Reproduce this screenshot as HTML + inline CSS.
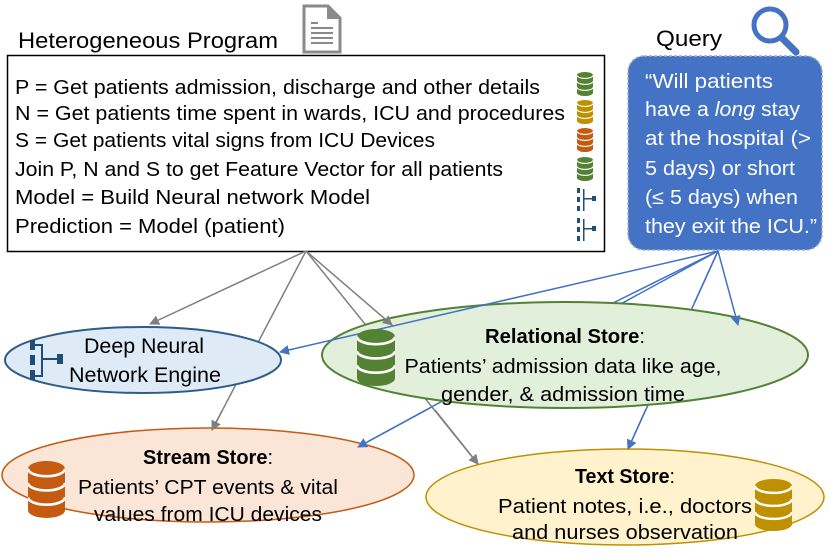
<!DOCTYPE html>
<html><head><meta charset="utf-8"><style>
html,body{margin:0;padding:0;background:#fff;width:830px;height:560px;overflow:hidden}
svg text{font-family:"Liberation Sans",sans-serif;}
</style></head><body>
<svg width="830" height="560" viewBox="0 0 830 560" xmlns="http://www.w3.org/2000/svg">
<defs>
<marker id="ag" markerWidth="10" markerHeight="10" refX="9" refY="5" orient="auto" markerUnits="userSpaceOnUse"><path d="M0,0 L10,5 L0,10 Z" fill="#7f7f7f"/></marker>
<marker id="ab" markerWidth="10" markerHeight="10" refX="9" refY="5" orient="auto" markerUnits="userSpaceOnUse"><path d="M0,0 L10,5 L0,10 Z" fill="#4472c4"/></marker>
<symbol id="dbs" viewBox="0 0 20 30" preserveAspectRatio="none">
<path d="M0,4 A10,4 0 0 1 20,4 V26 A10,4 0 0 1 0,26 Z" fill="currentColor"/>
<path d="M0,4 A10,4 0 0 0 20,4 M0,11.5 A10,4 0 0 0 20,11.5 M0,19 A10,4 0 0 0 20,19" fill="none" stroke="#fff" stroke-width="1.4"/>
</symbol>
</defs>

<!-- titles -->
<text x="18" y="48" font-size="22" textLength="260" lengthAdjust="spacingAndGlyphs">Heterogeneous Program</text>
<path d="M304,6 H328 L340,18 V52 H304 Z" fill="none" stroke="#8a8a8a" stroke-width="3"/>
<path d="M328,6 V18 H340" fill="#8a8a8a" stroke="#8a8a8a" stroke-width="2"/>
<g stroke="#8a8a8a" stroke-width="2"><line x1="311" y1="23" x2="318" y2="23"/><line x1="311" y1="28" x2="333" y2="28"/><line x1="311" y1="33" x2="333" y2="33"/><line x1="311" y1="38" x2="333" y2="38"/><line x1="311" y1="43" x2="333" y2="43"/></g>

<text x="656" y="46" font-size="22" textLength="66" lengthAdjust="spacingAndGlyphs">Query</text>
<circle cx="770" cy="25" r="16" fill="none" stroke="#4472c4" stroke-width="5"/>
<line x1="782" y1="38" x2="796" y2="52" stroke="#4472c4" stroke-width="7" stroke-linecap="round"/>

<!-- program box -->
<rect x="7.5" y="55.5" width="597" height="196" fill="#fff" stroke="#000" stroke-width="1.5"/>
<g font-size="20">
<text x="15" y="94" textLength="525" lengthAdjust="spacingAndGlyphs">P = Get patients admission, discharge and other details</text>
<text x="15" y="120" textLength="550" lengthAdjust="spacingAndGlyphs">N = Get patients time spent in wards, ICU and procedures</text>
<text x="15" y="147" textLength="420" lengthAdjust="spacingAndGlyphs">S = Get patients vital signs from ICU Devices</text>
<text x="15" y="176" textLength="488" lengthAdjust="spacingAndGlyphs">Join P, N and S to get Feature Vector for all patients</text>
<text x="15" y="204" textLength="355" lengthAdjust="spacingAndGlyphs">Model = Build Neural network Model</text>
<text x="15" y="233" textLength="270" lengthAdjust="spacingAndGlyphs">Prediction = Model (patient)</text>
</g>
<use href="#dbs" x="577" y="72" width="16" height="24" color="#548235"/>
<use href="#dbs" x="577" y="100" width="16" height="24" color="#bf9000"/>
<use href="#dbs" x="577" y="128" width="16" height="24" color="#c55a11"/>
<use href="#dbs" x="577" y="157" width="16" height="24" color="#548235"/>
<g fill="#1f4e79">
<rect x="577" y="188" width="3" height="5"/><rect x="577" y="197" width="3" height="5"/><rect x="577" y="206" width="3" height="5"/><rect x="592" y="196" width="4" height="5"/><rect x="583" y="189" width="1.5" height="22"/><rect x="583" y="198" width="9" height="1.5"/>
<rect x="577" y="218" width="3" height="5"/><rect x="577" y="227" width="3" height="5"/><rect x="577" y="236" width="3" height="5"/><rect x="592" y="226" width="4" height="5"/><rect x="583" y="219" width="1.5" height="22"/><rect x="583" y="228" width="9" height="1.5"/>
</g>

<!-- query box -->
<rect x="628" y="56" width="194" height="194" rx="16" fill="#4472c4" stroke="#9dabc8" stroke-width="1.5" stroke-dasharray="3,2"/>
<g font-size="20" fill="#fff">
<text x="645" y="88" textLength="128" lengthAdjust="spacingAndGlyphs">“Will patients</text>
<text x="645" y="116" textLength="155" lengthAdjust="spacingAndGlyphs">have a <tspan font-style="italic">long</tspan> stay</text>
<text x="645" y="145" textLength="166" lengthAdjust="spacingAndGlyphs">at the hospital (&gt;</text>
<text x="645" y="175" textLength="150" lengthAdjust="spacingAndGlyphs">5 days) or short</text>
<text x="645" y="204" textLength="153" lengthAdjust="spacingAndGlyphs">(≤ 5 days) when</text>
<text x="645" y="233" textLength="172" lengthAdjust="spacingAndGlyphs">they exit the ICU.”</text>
</g>

<!-- lower connectors -->
<g stroke="#7f7f7f" stroke-width="1.5" fill="none">
<line x1="306" y1="251" x2="212" y2="430" marker-end="url(#ag)"/>
<line x1="306" y1="251" x2="478" y2="464" marker-end="url(#ag)"/>
</g>
<g stroke="#4472c4" stroke-width="1.5" fill="none">
<line x1="718" y1="251" x2="358" y2="447" marker-end="url(#ab)"/>
<line x1="718" y1="251" x2="628" y2="449" marker-end="url(#ab)"/>
</g>

<!-- ellipses -->
<ellipse cx="143" cy="360" rx="138" ry="33" fill="#deebf7" stroke="#2e5c8a" stroke-width="2"/>
<ellipse cx="565" cy="355" rx="243" ry="53" fill="#e2efda" stroke="#548235" stroke-width="2"/>
<ellipse cx="208" cy="475" rx="206" ry="47" fill="#fbe5d6" stroke="#c55a11" stroke-width="1.5"/>
<ellipse cx="625" cy="497" rx="199" ry="48" fill="#fff2cc" stroke="#bf9000" stroke-width="1.5"/>

<!-- lower-line arrowheads re-drawn -->
<g stroke="#7f7f7f" stroke-width="1.5">
<line x1="222" y1="411" x2="212" y2="430" marker-end="url(#ag)"/>
<line x1="435" y1="410" x2="478" y2="464" marker-end="url(#ag)"/>
</g>
<g stroke="#4472c4" stroke-width="1.5">
<line x1="430" y1="408" x2="358" y2="447" marker-end="url(#ab)"/>
<line x1="646" y1="409" x2="628" y2="449" marker-end="url(#ab)"/>
</g>

<!-- upper connectors -->
<g stroke="#7f7f7f" stroke-width="1.5">
<line x1="306" y1="251" x2="150" y2="324" marker-end="url(#ag)"/>
<line x1="306" y1="251" x2="392" y2="325" marker-end="url(#ag)"/>
</g>
<g stroke="#4472c4" stroke-width="1.5">
<line x1="718" y1="251" x2="280" y2="352" marker-end="url(#ab)"/>
<line x1="718" y1="251" x2="738" y2="325" marker-end="url(#ab)"/>
<line x1="718" y1="251" x2="613" y2="303"/>
<line x1="718" y1="251" x2="694" y2="304"/>
</g>

<!-- ellipse contents -->
<g fill="#1f4e79">
<rect x="30" y="340" width="5" height="10"/><rect x="30" y="355" width="5" height="10"/><rect x="30" y="370" width="5" height="10"/><rect x="57" y="354" width="6" height="10"/>
<rect x="35" y="344" width="8" height="2"/><rect x="41" y="344" width="2" height="33"/><rect x="35" y="375" width="8" height="2"/><rect x="41" y="358" width="16" height="2"/>
</g>
<g font-size="21" text-anchor="middle">
<text x="144" y="353" textLength="120" lengthAdjust="spacingAndGlyphs">Deep Neural</text>
<text x="145" y="382" textLength="152" lengthAdjust="spacingAndGlyphs">Network Engine</text>
</g>

<use href="#dbs" x="357" y="329" width="38" height="57" color="#548235"/>
<g font-size="20" text-anchor="middle">
<text x="565" y="343" font-weight="bold" textLength="160" lengthAdjust="spacingAndGlyphs">Relational Store<tspan font-weight="normal">:</tspan></text>
<text x="563" y="373" textLength="317" lengthAdjust="spacingAndGlyphs">Patients’ admission data like age,</text>
<text x="563" y="401" textLength="244" lengthAdjust="spacingAndGlyphs">gender, &amp; admission time</text>
</g>

<use href="#dbs" x="28" y="461" width="37" height="57" color="#c55a11"/>
<g font-size="20" text-anchor="middle">
<text x="208" y="464" font-weight="bold" textLength="130" lengthAdjust="spacingAndGlyphs">Stream Store<tspan font-weight="normal">:</tspan></text>
<text x="208" y="494" textLength="260" lengthAdjust="spacingAndGlyphs">Patients’ CPT events &amp; vital</text>
<text x="208" y="521" textLength="228" lengthAdjust="spacingAndGlyphs">values from ICU devices</text>
</g>

<use href="#dbs" x="755" y="479" width="37" height="52" color="#bf9000"/>
<g font-size="20" text-anchor="middle">
<text x="625" y="483" font-weight="bold" textLength="100" lengthAdjust="spacingAndGlyphs">Text Store<tspan font-weight="normal">:</tspan></text>
<text x="625" y="513" textLength="254" lengthAdjust="spacingAndGlyphs">Patient notes, i.e., doctors</text>
<text x="625" y="539" textLength="226" lengthAdjust="spacingAndGlyphs">and nurses observation</text>
</g>
</svg>
</body></html>
